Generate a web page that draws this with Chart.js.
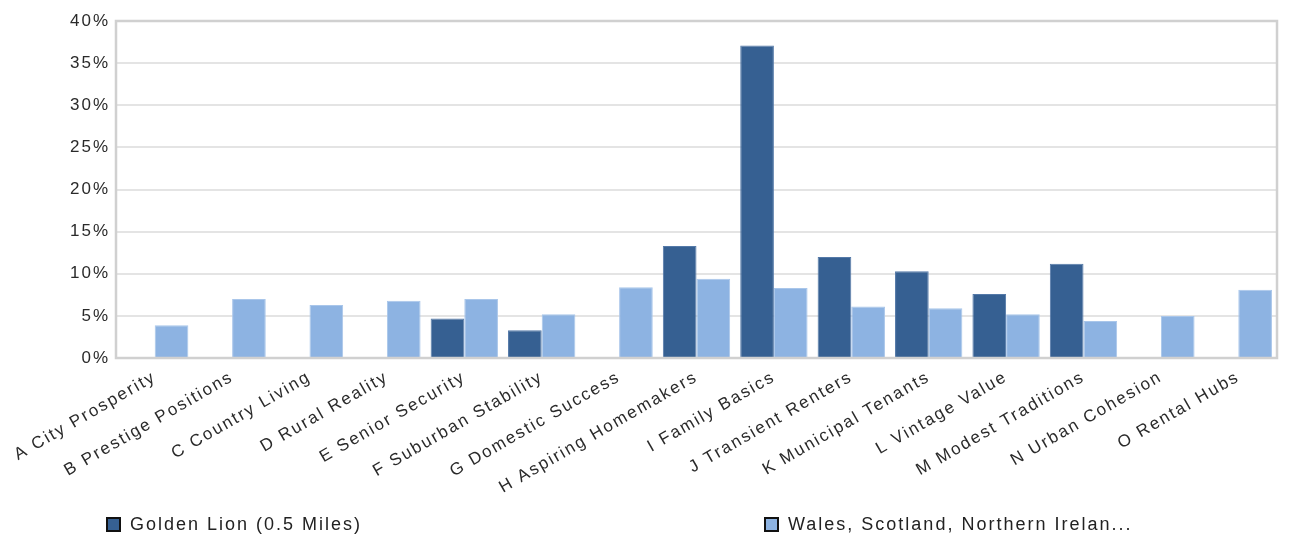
<!DOCTYPE html>
<html>
<head>
<meta charset="utf-8">
<script src="https://cdn.jsdelivr.net/npm/chart.js@4"></script>
<style>
  body { margin: 0; background: #fff; font-family: "Liberation Sans", Arial, sans-serif; }
  #wrap { position: relative; width: 1294px; height: 542px; }
  .legend-item { position: absolute; top: 514px; font-size: 18px; letter-spacing: 2px; color: #222; display: flex; align-items: center; }
  .legend-item span.box { width: 11px; height: 11px; border: 2px solid #111; margin-right: 9px; }
</style>
</head>
<body>
<div id="wrap">
  <canvas id="chart" width="1294" height="542"></canvas>
  <div class="legend-item" style="left:106px"><span class="box" style="background:#366092"></span>Golden Lion (0.5 Miles)</div>
  <div class="legend-item" style="left:764px"><span class="box" style="background:#8db3e2"></span>Wales, Scotland, Northern Irelan...</div>
</div>
<script>
const categories = ['A City Prosperity', 'B Prestige Positions', 'C Country Living', 'D Rural Reality', 'E Senior Security',
    'F Suburban Stability', 'G Domestic Success', 'H Aspiring Homemakers', 'I Family Basics', 'J Transient Renters',
    'K Municipal Tenants', 'L Vintage Value', 'M Modest Traditions', 'N Urban Cohesion', 'O Rental Hubs'];
const goldenLion = [0, 0, 0, 0, 4.7, 3.3, 0, 13.3, 37.1, 12.0, 10.3, 7.6, 11.2, 0, 0];
const regionAvg = [3.9, 7.0, 6.3, 6.8, 7.0, 5.2, 8.4, 9.4, 8.3, 6.1, 5.9, 5.2, 4.4, 5.0, 8.1];
const yTicks = [0, 5, 10, 15, 20, 25, 30, 35, 40];

// the reference text is widely spaced
const spacingPlugin = {
    id: 'spacing',
    beforeUpdate(c) { c.ctx.letterSpacing = '2px'; },
    beforeDraw(c) { c.ctx.letterSpacing = '2px'; }
};

// plot frame drawn around the chart area
const framePlugin = {
    id: 'frame',
    afterDraw(c) {
        const a = c.chartArea, ctx = c.ctx;
        ctx.save();
        ctx.strokeStyle = '#d0d0d0';
        ctx.lineWidth = 2.5;
        ctx.strokeRect(a.left, a.top, a.right - a.left, a.bottom - a.top);
        ctx.restore();
    }
};

new Chart(document.getElementById('chart'), {
    type: 'bar',
    data: {
        labels: categories,
        datasets: [
            { label: 'Golden Lion (0.5 Miles)', data: goldenLion, backgroundColor: '#366092', borderColor: '#5479a8', borderWidth: 1 },
            { label: 'Wales, Scotland, Northern Irelan...', data: regionAvg, backgroundColor: '#8db3e2', borderColor: '#a9c6ea', borderWidth: 1 }
        ]
    },
    options: {
        responsive: false,
        animation: false,
        layout: { padding: { top: 21, right: 17, left: 0, bottom: 0 } },
        datasets: { bar: { categoryPercentage: 0.87, barPercentage: 1.0 } },
        plugins: { legend: { display: false }, tooltip: { enabled: false } },
        scales: {
            x: {
                grid: { display: false },
                border: { display: false },
                afterFit: s => { s.height = 184; },
                ticks: {
                    color: '#2a2a2a', font: { family: 'Liberation Sans', size: 17 },
                    minRotation: 30, maxRotation: 30, autoSkip: false, padding: 1
                }
            },
            y: {
                min: 0, max: 40,
                afterFit: s => { s.width = 116; },
                afterBuildTicks: s => { s.ticks = yTicks.map(v => ({ value: v })); },
                grid: { color: '#e4e4e4', lineWidth: 2, drawTicks: false },
                border: { display: false },
                ticks: {
                    color: '#2a2a2a', font: { family: 'Liberation Sans', size: 17 }, padding: 6,
                    callback: v => v + '%'
                }
            }
        }
    },
    plugins: [spacingPlugin, framePlugin]
});
</script>
</body>
</html>
